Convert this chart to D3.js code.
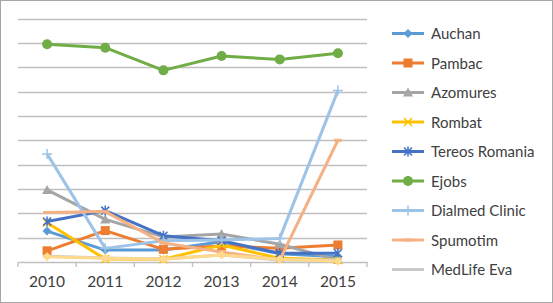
<!DOCTYPE html>
<html>
<head>
<meta charset="utf-8">
<script src="https://cdn.jsdelivr.net/npm/d3@7"></script>
<style>
  body { margin: 0; background: #fff; }
  text { font-family: Lato, "Liberation Sans", sans-serif; fill: #404040; }
</style>
</head>
<body>
<svg id="chart"></svg>
<script>
var years = ["2010", "2011", "2012", "2013", "2014", "2015"];
var names = ["Auchan", "Pambac", "Azomures", "Rombat", "Tereos Romania", "Ejobs",
             "Dialmed Clinic", "Spumotim", "MedLife Eva", ""];

var auchan   = [12.7, 4.9, 4.9, 8.3, 3.4, 2.2];
var pambac   = [4.6, 12.9, 5.2, 6.6, 5.6, 7.0];
var azomures = [29.6, 17.5, 10.3, 11.5, 7.3, 0.8];
var rombat   = [16.1, 1.2, 1.1, 7.0, 1.5, 0.8];
var tereos   = [16.6, 21.1, 10.8, 8.7, 3.6, 3.6];
var ejobs    = [89.4, 88.0, 78.7, 84.6, 83.2, 85.7];
var dialmed  = [44.4, 5.6, 8.7, 9.0, 9.7, 70.4];
var spumotim = [20.3, 20.7, 7.8, 4.1, 0.8, 50.0];
var medlife  = [2.4, 1.6, 1.2, 2.9, 0.8, 0.8];
var tenth    = [2.2, 1.5, 1.1, 2.9, 1.1, 0.3];

var colors  = ["#5B9BD5", "#ED7D31", "#A5A5A5", "#FFC000", "#4472C4", "#70AD47",
               "#9DC3E6", "#F4B183", "#C9C9C9", "#FFD98C"];
var markers = ["diamond", "square", "triangle", "x", "star", "circle", "plus", "dash", "dash", "diamond"];
var ticks = [0, 10, 20, 30, 40, 50, 60, 70, 80, 90, 100];

var series = [auchan, pambac, azomures, rombat, tereos, ejobs, dialmed, spumotim, medlife, tenth];

var width = 553, height = 303;
var svg = d3.select("#chart").attr("width", width).attr("height", height);

svg.append("rect")
  .attr("x", 0.5).attr("y", 0.5)
  .attr("width", width - 1).attr("height", height - 1)
  .attr("fill", "#fff").attr("stroke", "#A6A6A6");

var x = d3.scaleBand().domain(years).range([18, 367]);
var y = d3.scaleLinear().domain([0, 100]).range([262, 18.5]);

// gridlines
svg.append("g").selectAll("line")
  .data(ticks.slice(1))
  .enter().append("line")
  .attr("x1", 18).attr("x2", 367)
  .attr("y1", function(d){return Math.round(y(d)) + 0.5;})
  .attr("y2", function(d){return Math.round(y(d)) + 0.5;})
  .attr("stroke", "#BFBFBF").attr("stroke-width", 1.3);

// x axis
var xAxis = d3.axisBottom(x).tickSize(0).tickPadding(14);
var ax = svg.append("g").attr("transform", "translate(0,262)").call(xAxis);
ax.select(".domain").attr("stroke", "#BFBFBF").attr("stroke-width", 1.3);
ax.selectAll("text").style("font-size", "15.5px").attr("fill", "#404040");
ax.selectAll(".edge")
  .data(d3.range(years.length + 1))
  .enter().append("line")
  .attr("x1", function(i){return 18 + i * x.step();})
  .attr("x2", function(i){return 18 + i * x.step();})
  .attr("y1", 0).attr("y2", 5)
  .attr("stroke", "#BFBFBF").attr("stroke-width", 1.3);

function drawMarker(g, type, color) {
  if (type == "diamond") {
    g.append("path").attr("d", "M0,-4.5L4.5,0L0,4.5L-4.5,0Z").attr("fill", color);
  } else if (type == "square") {
    g.append("rect").attr("x", -4.5).attr("y", -4.5).attr("width", 9).attr("height", 9).attr("fill", color);
  } else if (type == "triangle") {
    g.append("path").attr("d", "M0,-5L5,4L-5,4Z").attr("fill", color);
  } else if (type == "x") {
    g.append("path").attr("d", "M-4,-4L4,4M4,-4L-4,4").attr("stroke", color).attr("stroke-width", 1.5);
  } else if (type == "star") {
    g.append("path").attr("d", "M-4,-4L4,4M4,-4L-4,4M0,-5L0,5").attr("stroke", color).attr("stroke-width", 1.5);
  } else if (type == "circle") {
    g.append("circle").attr("r", 5).attr("fill", color);
  } else if (type == "plus") {
    g.append("path").attr("d", "M-5,0L5,0M0,-5L0,5").attr("stroke", color).attr("stroke-width", 1.5);
  } else if (type == "dash") {
    g.append("path").attr("d", "M-4,0L4,0").attr("stroke", color).attr("stroke-width", 3);
  }
}

var line = d3.line()
  .x(function(d, i){return x(years[i]) + x.bandwidth() / 2;})
  .y(function(d){return y(d);});

series.forEach(function(vals, s) {
  var g = svg.append("g");
  g.append("path")
    .datum(vals)
    .attr("d", line)
    .attr("fill", "none")
    .attr("stroke", colors[s])
    .attr("stroke-width", 3)
    .attr("stroke-linejoin", "round");
  vals.forEach(function(v, i) {
    var m = g.append("g")
      .attr("transform", "translate(" + (x(years[i]) + x.bandwidth() / 2) + "," + y(v) + ")");
    drawMarker(m, markers[s], colors[s]);
  });
});

// legend
var legend = svg.append("g");
names.forEach(function(n, i) {
  if (n == "") return;
  var ly = 33.5 + i * 29.5;
  var g = legend.append("g").attr("transform", "translate(0," + ly + ")");
  g.append("line").attr("x1", 392).attr("x2", 424).attr("y1", 0).attr("y2", 0)
    .attr("stroke", colors[i]).attr("stroke-width", 3);
  var m = g.append("g").attr("transform", "translate(408,0)");
  drawMarker(m, markers[i], colors[i]);
  g.append("text").attr("x", 431).attr("y", 5.5).style("font-size", "15px").text(n);
});
</script>
</body>
</html>
